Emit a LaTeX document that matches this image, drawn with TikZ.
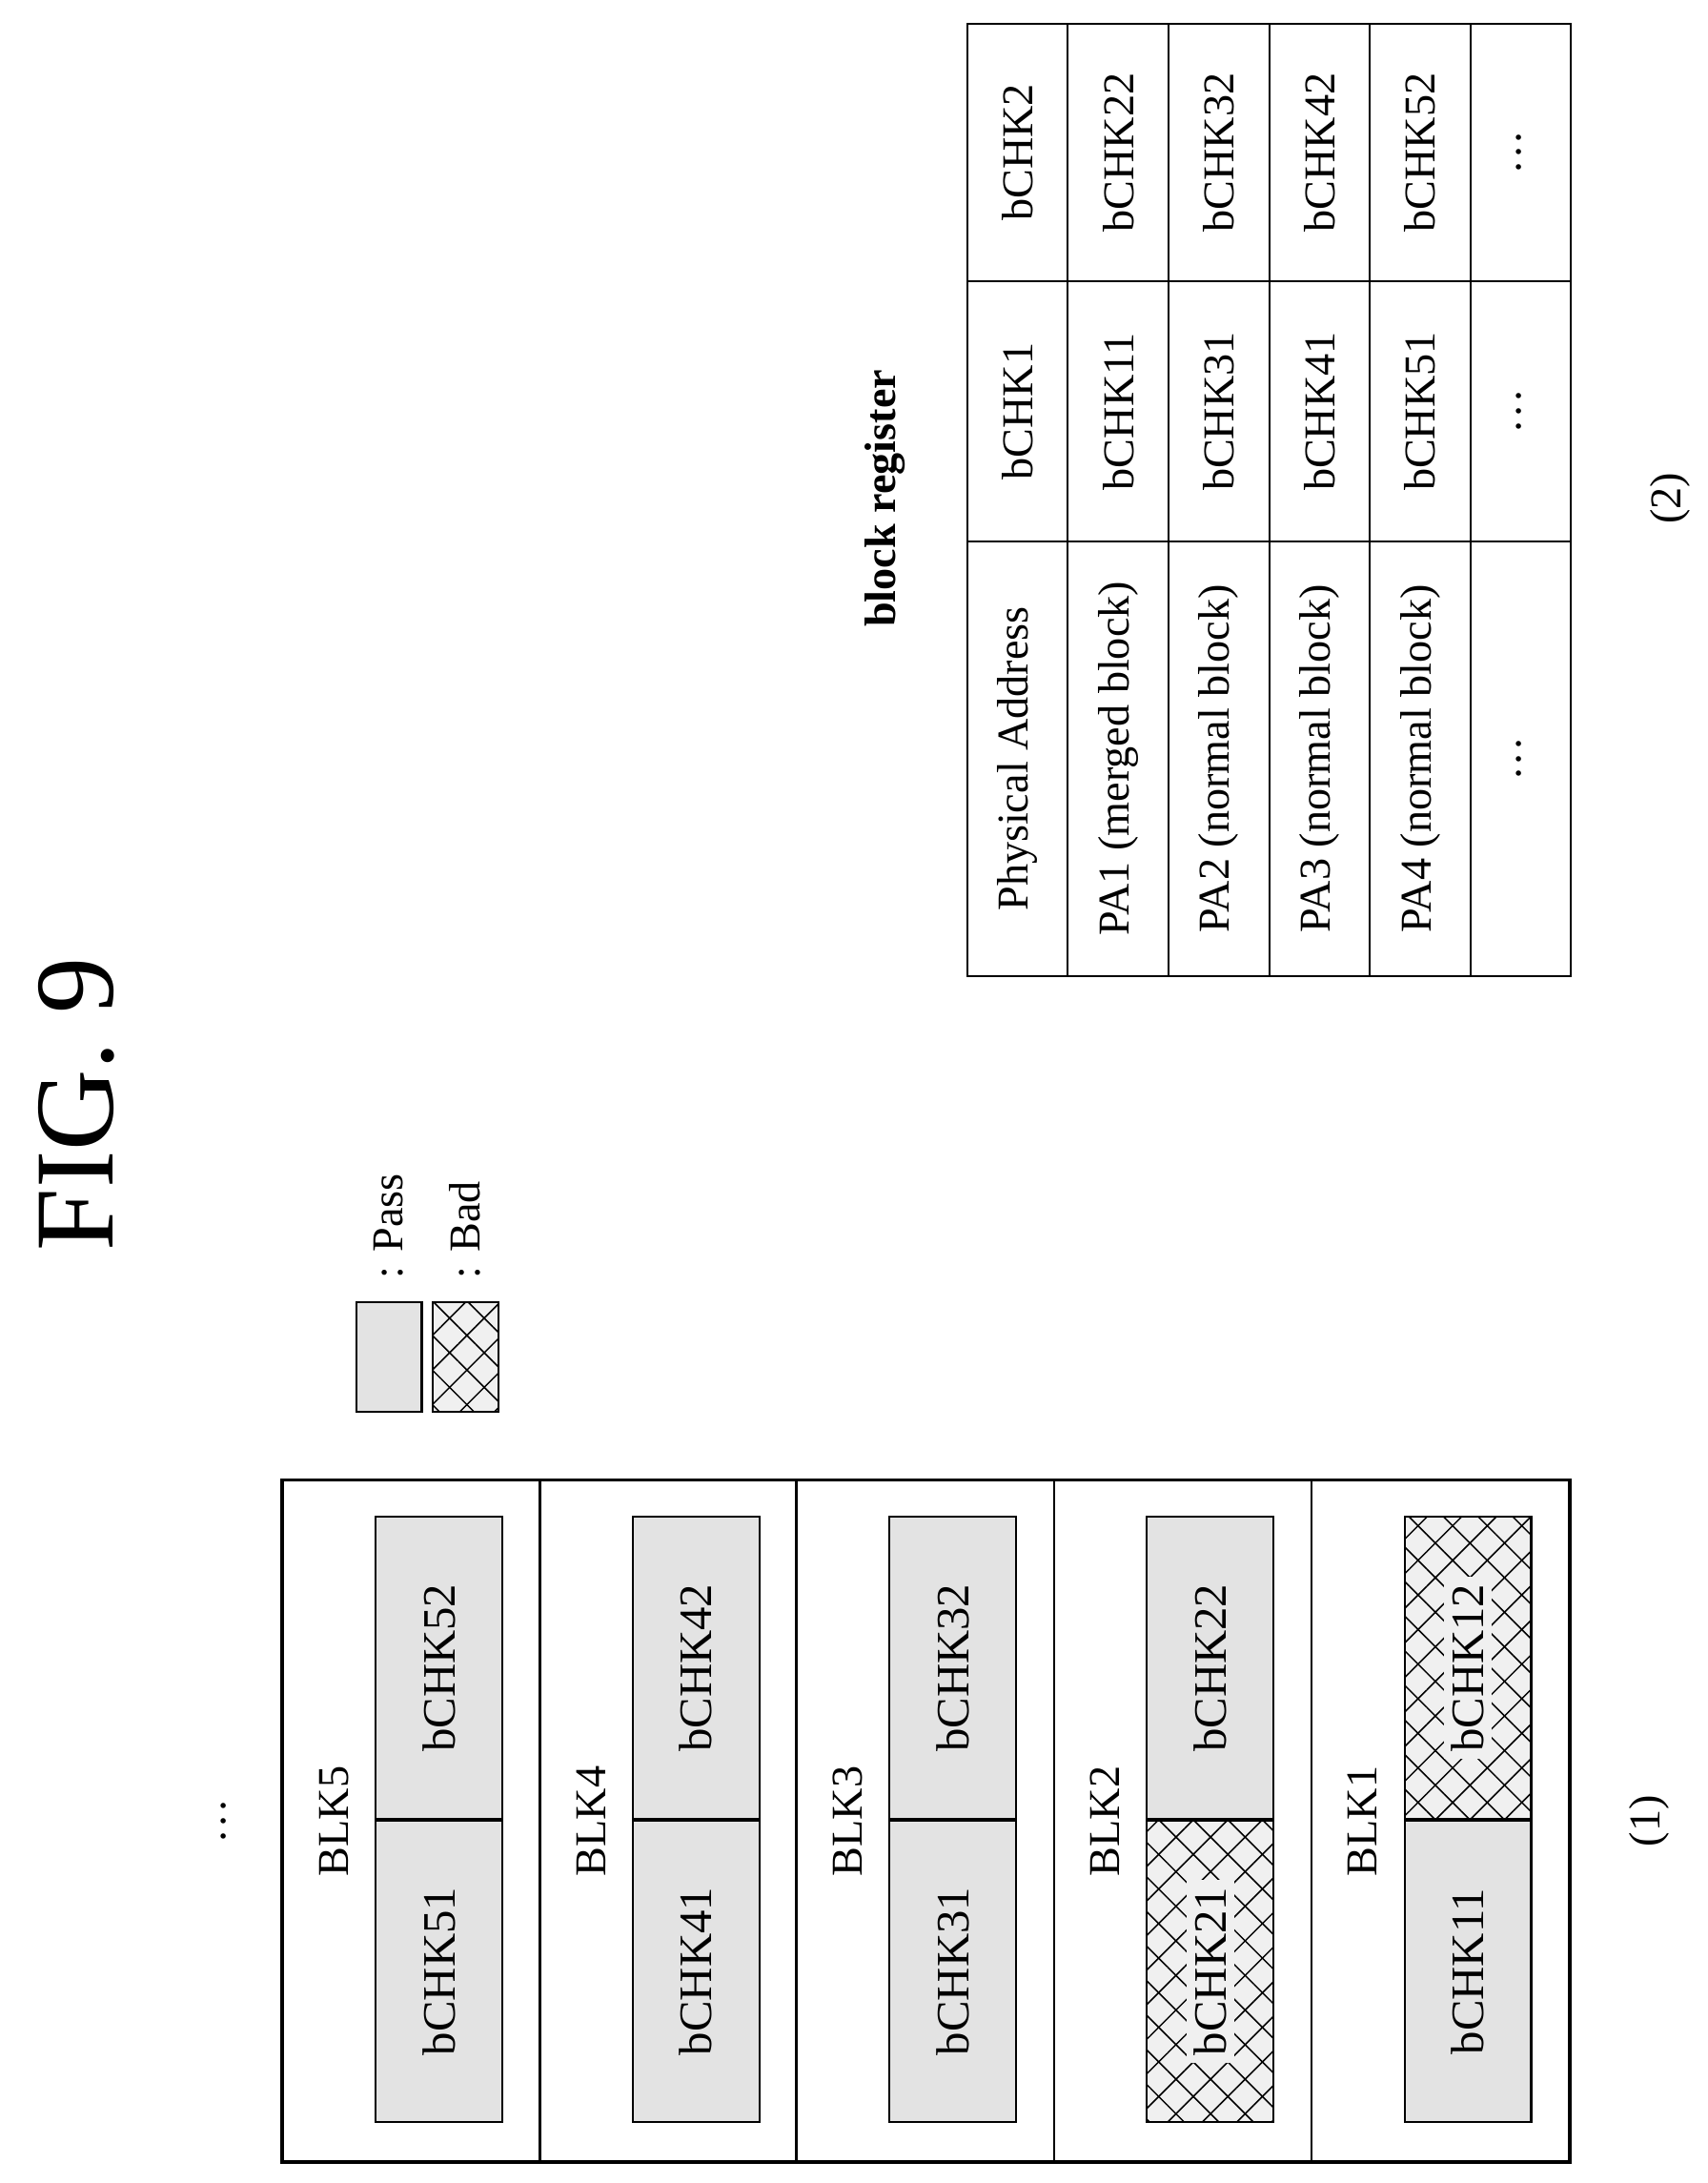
\documentclass[tikz,border=0pt]{standalone}
\usepackage{fontspec}
\setmainfont{Liberation Serif}
\usetikzlibrary{patterns.meta}

\tikzset{
  blk/.style={draw, rotate=90, minimum width=9.78cm, minimum height=3.7cm, inner sep=0pt},
  chunk/.style={draw, thick, rotate=90, minimum width=4.34cm, minimum height=1.82cm, inner sep=0pt, font=\fontsize{19}{21}\selectfont},
  pass/.style={chunk, fill=gray!22},
  bad/.style={chunk, fill=gray!12,
    postaction={pattern={Lines[angle=45,distance=10pt,line width=0.6pt]}},
    postaction={pattern={Lines[angle=-45,distance=10pt,line width=0.6pt]}}},
  lbl/.style={rotate=90, font=\fontsize{18}{20}\selectfont},
  cell/.style={draw, thick, rotate=90, minimum height=1.446cm, inner sep=0pt, font=\fontsize{18}{20}\selectfont},
  cA/.style={cell, minimum width=6.24cm},
  cB/.style={cell, minimum width=3.74cm},
  cC/.style={cell, minimum width=3.7cm}
}
\newcommand{\tdots}{\textbullet\hspace{3pt}\textbullet\hspace{3pt}\textbullet}

\begin{document}
\begin{tikzpicture}[x=0.02cm,y=-0.02cm]
  \useasboundingbox (0,0) rectangle (1227,1568);

  \node[rotate=90, font=\fontsize{46}{50}\selectfont] (Fig) at (55,793) {FIG. 9};

  % memory blocks
  \node[blk, thick] (Blk5) at (295.5,1308) {};
  \node[blk, thick] (Blk4) at (480,1308) {};
  \node[blk, thick] (Blk3) at (664.5,1308) {};
  \node[blk, thick] (Blk2) at (849.5,1308) {};
  \node[blk, thick] (Blk1) at (1034.5,1308) {};
  \draw[very thick] (Blk5.north east) rectangle (Blk1.south west);

  \node[lbl] (L5) at (240,1308) {BLK5};
  \node[lbl] (L4) at (425,1308) {BLK4};
  \node[lbl] (L3) at (609,1308) {BLK3};
  \node[lbl] (L2) at (794,1308) {BLK2};
  \node[lbl] (L1) at (979,1308) {BLK1};

  \node[pass] (C51) at (315.5,1416) {bCHK51};
  \node[pass] (C52) at (315.5,1198) {bCHK52};
  \node[pass] (C41) at (500,1416) {bCHK41};
  \node[pass] (C42) at (500,1198) {bCHK42};
  \node[pass] (C31) at (684.5,1416) {bCHK31};
  \node[pass] (C32) at (684.5,1198) {bCHK32};
  \node[bad]  (C21) at (869.5,1416) {\colorbox{gray!12}{bCHK21}};
  \node[pass] (C22) at (869.5,1198) {bCHK22};
  \node[pass] (C11) at (1054.5,1416) {bCHK11};
  \node[bad]  (C12) at (1054.5,1198) {\colorbox{gray!12}{bCHK12}};

  \node[lbl, font=\small] (More) at (162,1308) {\tdots};
  \node[lbl] (Sub1) at (1185,1308) {(1)};

  % legend
  \node[pass, minimum width=1.58cm, minimum height=0.94cm] (KeyPass) at (279.5,974.5) {};
  \node[bad, minimum width=1.58cm, minimum height=0.94cm] (KeyBad) at (334.5,974.5) {};
  \node[lbl, anchor=west] (TPass) at (279,925) {: Pass};
  \node[lbl, anchor=west] (TBad) at (334,925) {: Bad};

  % block register
  \node[lbl, font=\bfseries\fontsize{18}{20}\selectfont] (Title) at (636,358) {block register};

  \node[cA] (R0A) at (731,545) {Physical Address};
  \node[cB] (R0B) at (731,295.5) {bCHK1};
  \node[cC] (R0C) at (731,109.5) {bCHK2};
  \node[cA] (R1A) at (803.3,545) {PA1 (merged block)};
  \node[cB] (R1B) at (803.3,295.5) {bCHK11};
  \node[cC] (R1C) at (803.3,109.5) {bCHK22};
  \node[cA] (R2A) at (875.6,545) {PA2 (normal block)};
  \node[cB] (R2B) at (875.6,295.5) {bCHK31};
  \node[cC] (R2C) at (875.6,109.5) {bCHK32};
  \node[cA] (R3A) at (947.9,545) {PA3 (normal block)};
  \node[cB] (R3B) at (947.9,295.5) {bCHK41};
  \node[cC] (R3C) at (947.9,109.5) {bCHK42};
  \node[cA] (R4A) at (1020.2,545) {PA4 (normal block)};
  \node[cB] (R4B) at (1020.2,295.5) {bCHK51};
  \node[cC] (R4C) at (1020.2,109.5) {bCHK52};
  \node[cA, font=\small] (R5A) at (1092.5,545) {\tdots};
  \node[cB, font=\small] (R5B) at (1092.5,295.5) {\tdots};
  \node[cC, font=\small] (R5C) at (1092.5,109.5) {\tdots};

  \node[lbl] (Sub2) at (1200,358) {(2)};
\end{tikzpicture}
\end{document}
